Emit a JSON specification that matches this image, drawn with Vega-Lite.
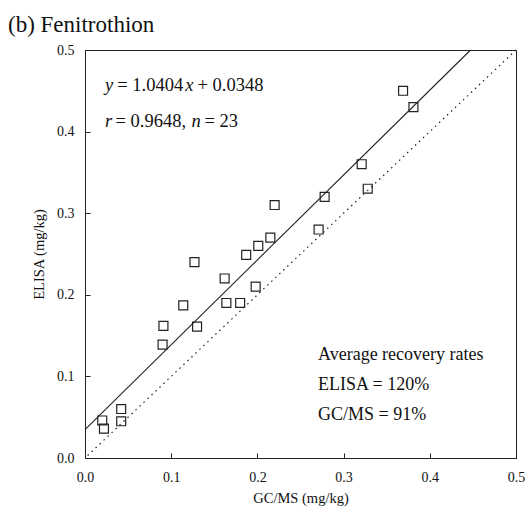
{
  "$schema": "https://vega.github.io/schema/vega-lite/v6.json",
  "width": 431,
  "height": 408,
  "autosize": {"type": "none"},
  "padding": {"left": 85, "top": 50, "right": 12, "bottom": 53},
  "background": "white",
  "title": {
    "text": "(b) Fenitrothion",
    "anchor": "start",
    "frame": "group",
    "dx": -77,
    "offset": -12,
    "baseline": "alphabetic",
    "font": "Liberation Serif",
    "fontSize": 23,
    "fontWeight": "normal",
    "color": "#111"
  },
  "config": {
    "font": "Liberation Serif",
    "view": {"stroke": "#222", "strokeWidth": 1},
    "axis": {
      "labelFont": "Liberation Serif",
      "titleFont": "Liberation Serif",
      "labelColor": "#111",
      "titleColor": "#111",
      "titleFontWeight": "normal",
      "domainColor": "#222",
      "tickColor": "#222",
      "grid": false,
      "labelFlush": false,
      "labelOverlap": false
    }
  },
  "datasets": {
    "points": [
      {"gcms": 0.369, "elisa": 0.450},
      {"gcms": 0.381, "elisa": 0.430},
      {"gcms": 0.321, "elisa": 0.360},
      {"gcms": 0.328, "elisa": 0.330},
      {"gcms": 0.278, "elisa": 0.320},
      {"gcms": 0.220, "elisa": 0.310},
      {"gcms": 0.271, "elisa": 0.280},
      {"gcms": 0.215, "elisa": 0.270},
      {"gcms": 0.201, "elisa": 0.260},
      {"gcms": 0.187, "elisa": 0.249},
      {"gcms": 0.127, "elisa": 0.240},
      {"gcms": 0.162, "elisa": 0.220},
      {"gcms": 0.198, "elisa": 0.210},
      {"gcms": 0.114, "elisa": 0.187},
      {"gcms": 0.164, "elisa": 0.190},
      {"gcms": 0.180, "elisa": 0.190},
      {"gcms": 0.091, "elisa": 0.162},
      {"gcms": 0.130, "elisa": 0.161},
      {"gcms": 0.090, "elisa": 0.139},
      {"gcms": 0.042, "elisa": 0.060},
      {"gcms": 0.020, "elisa": 0.046},
      {"gcms": 0.042, "elisa": 0.045},
      {"gcms": 0.022, "elisa": 0.036}
    ],
    "fit": [
      {"gcms": 0.0, "elisa": 0.0348},
      {"gcms": 0.4473, "elisa": 0.5}
    ],
    "identity": [
      {"gcms": 0.003, "elisa": 0.003},
      {"gcms": 0.5, "elisa": 0.5}
    ]
  },
  "layer": [
    {
      "data": {"name": "identity"},
      "mark": {"type": "line", "color": "#222", "strokeWidth": 1.2, "strokeDash": [1.5, 4]},
      "encoding": {
        "x": {
          "field": "gcms",
          "type": "quantitative",
          "scale": {"domain": [0, 0.5], "nice": false, "zero": false},
          "axis": {
            "title": "GC/MS (mg/kg)",
            "values": [0, 0.1, 0.2, 0.3, 0.4, 0.5],
            "format": ".1f",
            "tickSize": -5,
            "labelFontSize": 14,
            "labelPadding": 17,
            "titleFontSize": 14.5,
            "titleY": 44,
            "titleBaseline": "alphabetic"
          }
        },
        "y": {
          "field": "elisa",
          "type": "quantitative",
          "scale": {"domain": [0, 0.5], "nice": false, "zero": false},
          "axis": {
            "title": "ELISA (mg/kg)",
            "values": [0, 0.1, 0.2, 0.3, 0.4, 0.5],
            "format": ".1f",
            "tickSize": -5,
            "labelFontSize": 14,
            "labelPadding": 16,
            "titleFontSize": 14.5,
            "titleX": -46,
            "titleY": 204,
            "titleBaseline": "middle",
            "titleAlign": "center"
          }
        }
      }
    },
    {
      "data": {"name": "fit"},
      "mark": {"type": "line", "color": "#222", "strokeWidth": 1.1},
      "encoding": {
        "x": {"field": "gcms", "type": "quantitative"},
        "y": {"field": "elisa", "type": "quantitative"}
      }
    },
    {
      "data": {"name": "points"},
      "mark": {"type": "point", "shape": "square", "size": 80, "filled": false, "color": "#222", "strokeWidth": 1.2, "opacity": 1},
      "encoding": {
        "x": {"field": "gcms", "type": "quantitative"},
        "y": {"field": "elisa", "type": "quantitative"}
      }
    },
    {
      "data": {"values": [{}]},
      "mark": {"type": "text", "text": "y", "fontStyle": "italic", "fontSize": 18.5, "align": "left", "baseline": "alphabetic", "color": "#111"},
      "encoding": {"x": {"datum": 0.0232, "type": "quantitative"}, "y": {"datum": 0.4498, "type": "quantitative"}}
    },
    {
      "data": {"values": [{}]},
      "mark": {"type": "text", "text": "= 1.0404", "fontSize": 18.5, "align": "left", "baseline": "alphabetic", "dx": 12.2, "color": "#111"},
      "encoding": {"x": {"datum": 0.0232, "type": "quantitative"}, "y": {"datum": 0.4498, "type": "quantitative"}}
    },
    {
      "data": {"values": [{}]},
      "mark": {"type": "text", "text": "x", "fontStyle": "italic", "fontSize": 18.5, "align": "left", "baseline": "alphabetic", "dx": 80.2, "color": "#111"},
      "encoding": {"x": {"datum": 0.0232, "type": "quantitative"}, "y": {"datum": 0.4498, "type": "quantitative"}}
    },
    {
      "data": {"values": [{}]},
      "mark": {"type": "text", "text": "+ 0.0348", "fontSize": 18.5, "align": "left", "baseline": "alphabetic", "dx": 92.5, "color": "#111"},
      "encoding": {"x": {"datum": 0.0232, "type": "quantitative"}, "y": {"datum": 0.4498, "type": "quantitative"}}
    },
    {
      "data": {"values": [{}]},
      "mark": {"type": "text", "text": "r", "fontStyle": "italic", "fontSize": 18.5, "align": "left", "baseline": "alphabetic", "color": "#111"},
      "encoding": {"x": {"datum": 0.0232, "type": "quantitative"}, "y": {"datum": 0.4056, "type": "quantitative"}}
    },
    {
      "data": {"values": [{}]},
      "mark": {"type": "text", "text": "= 0.9648,", "fontSize": 18.5, "align": "left", "baseline": "alphabetic", "dx": 10.5, "color": "#111"},
      "encoding": {"x": {"datum": 0.0232, "type": "quantitative"}, "y": {"datum": 0.4056, "type": "quantitative"}}
    },
    {
      "data": {"values": [{}]},
      "mark": {"type": "text", "text": "n", "fontStyle": "italic", "fontSize": 18.5, "align": "left", "baseline": "alphabetic", "dx": 86.5, "color": "#111"},
      "encoding": {"x": {"datum": 0.0232, "type": "quantitative"}, "y": {"datum": 0.4056, "type": "quantitative"}}
    },
    {
      "data": {"values": [{}]},
      "mark": {"type": "text", "text": "= 23", "fontSize": 18.5, "align": "left", "baseline": "alphabetic", "dx": 99.5, "color": "#111"},
      "encoding": {"x": {"datum": 0.0232, "type": "quantitative"}, "y": {"datum": 0.4056, "type": "quantitative"}}
    },
    {
      "data": {"values": [{}]},
      "mark": {"type": "text", "text": ["Average recovery rates", "ELISA = 120%", "GC/MS = 91%"], "lineHeight": 30, "fontSize": 18, "align": "left", "baseline": "alphabetic", "color": "#111"},
      "encoding": {"x": {"datum": 0.2703, "type": "quantitative"}, "y": {"datum": 0.1201, "type": "quantitative"}}
    }
  ]
}
